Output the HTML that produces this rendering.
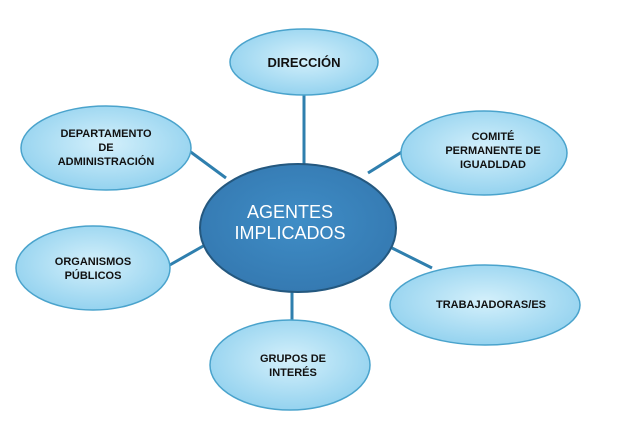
<!DOCTYPE html>
<html><head><style>body{margin:0;background:#fff}</style></head><body>
<svg width="641" height="423" viewBox="0 0 641 423" xmlns="http://www.w3.org/2000/svg" font-family="Liberation Sans, Arial, sans-serif">
<defs>
<radialGradient id="g" cx="50%" cy="45%" r="60%"><stop offset="0" stop-color="#d4f0fb"/><stop offset="1" stop-color="#8fd0ee"/></radialGradient>
<radialGradient id="c" cx="50%" cy="45%" r="60%"><stop offset="0" stop-color="#3f8dc6"/><stop offset="1" stop-color="#3478b0"/></radialGradient>
</defs>
<g stroke="#2f7fae" stroke-width="3">
<line x1="304" y1="95" x2="304" y2="168"/>
<line x1="188" y1="150" x2="226" y2="178"/>
<line x1="405" y1="150" x2="368" y2="173"/>
<line x1="168" y1="266" x2="205" y2="245"/>
<line x1="432" y1="268" x2="386" y2="245"/>
<line x1="292" y1="322" x2="292" y2="288"/>
</g>
<g fill="url(#g)" stroke="#4aa3cc" stroke-width="1.5">
<ellipse cx="304" cy="62" rx="74" ry="33"/>
<ellipse cx="106" cy="148" rx="85" ry="42"/>
<ellipse cx="484" cy="153" rx="83" ry="42"/>
<ellipse cx="93" cy="268" rx="77" ry="42"/>
<ellipse cx="485" cy="305" rx="95" ry="40"/>
<ellipse cx="290" cy="365" rx="80" ry="45"/>
</g>
<ellipse cx="298" cy="228" rx="98" ry="64" fill="url(#c)" stroke="#24587f" stroke-width="2"/>
<g font-weight="bold" font-size="11" fill="#111" text-anchor="middle">
<text x="304" y="67" font-size="13">DIRECCIÓN</text>
<text x="106" y="137">DEPARTAMENTO</text>
<text x="106" y="151">DE</text>
<text x="106" y="165">ADMINISTRACIÓN</text>
<text x="493" y="140">COMITÉ</text>
<text x="493" y="154">PERMANENTE DE</text>
<text x="493" y="168">IGUADLDAD</text>
<text x="93" y="265">ORGANISMOS</text>
<text x="93" y="279">PÚBLICOS</text>
<text x="491" y="308">TRABAJADORAS/ES</text>
<text x="293" y="362">GRUPOS DE</text>
<text x="293" y="376">INTERÉS</text>
</g>
<g fill="#fff" font-size="18" text-anchor="middle">
<text x="290" y="218">AGENTES</text>
<text x="290" y="239">IMPLICADOS</text>
</g>
</svg>
</body></html>
